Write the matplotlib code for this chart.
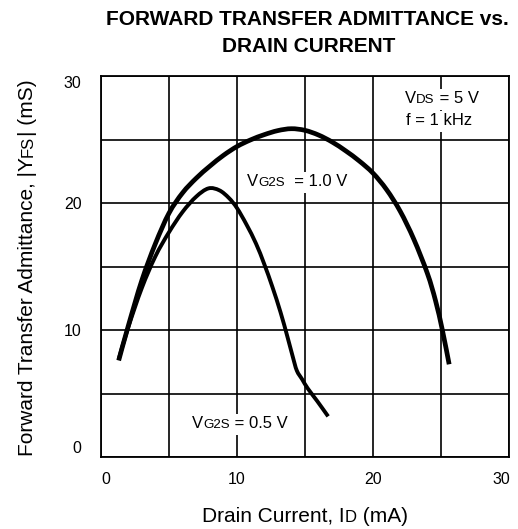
import matplotlib
matplotlib.use("Agg")
import matplotlib.pyplot as plt
import numpy as np
from matplotlib.transforms import IdentityTransform, ScaledTranslation
from matplotlib.patches import Rectangle, PathPatch
from matplotlib.path import Path

plt.rcParams['font.family'] = ['Liberation Sans', 'DejaVu Sans']

# ---- data ----
id_10 = [1.3, 2.0, 3.0, 4.0, 5.0, 6.0, 7.0, 8.0, 9.0, 10.0, 11.0, 12.0, 13.0, 14.0,
         15.0, 16.0, 17.0, 18.0, 19.0, 20.0, 21.0, 22.0, 23.0, 24.0, 24.6, 25.1, 25.6]
yfs_10 = [7.6, 10.3, 13.9, 16.8, 19.2, 20.8, 21.95, 22.9, 23.75, 24.45, 24.97, 25.38, 25.7, 25.85,
          25.72, 25.35, 24.8, 24.1, 23.3, 22.35, 21.05, 19.35, 17.15, 14.45, 12.3, 10.0, 7.3]
id_05 = [1.3, 2.0, 3.0, 4.0, 5.0, 6.0, 7.0, 7.9, 8.7, 9.4, 10.0, 10.7, 11.4, 12.0,
         12.6, 13.2, 13.7, 14.1, 14.4, 14.8, 15.2, 15.9, 16.7]
yfs_05 = [7.7, 10.2, 13.3, 15.8, 17.7, 19.3, 20.5, 21.15, 21.0, 20.4, 19.6, 18.3, 16.8, 15.2,
          13.4, 11.4, 9.5, 7.9, 6.8, 6.1, 5.4, 4.4, 3.2]
x_ticks = [0, 10, 20, 30]
y_ticks = [0, 10, 20, 30]
grid_minor = [5, 15, 25]

W, H = 518, 529
fig = plt.figure(figsize=(W / 100, H / 100), dpi=100)
ax = fig.add_axes([101 / W, (H - 457) / H, 408 / W, 381 / H])
ax.set_xlim(0, 30)
ax.set_ylim(0, 30)
ax.set_xticks(x_ticks)
ax.set_yticks(y_ticks)
ax.set_xticks(grid_minor, minor=True)
ax.set_yticks(grid_minor, minor=True)
ax.tick_params(which='both', length=0, labelsize=11.5, colors='black')
ax.tick_params(axis='x', pad=11)
ax.tick_params(axis='y', pad=14)
ax.grid(which='both', color='black', linewidth=1.2, zorder=0.5)
ax.set_axisbelow(True)
for s in ax.spines.values():
    s.set_linewidth(1.3)
    s.set_color('black')


def smooth_path(xs, ys):
    """Catmull-Rom curve through the given points as cubic Bezier segments."""
    P = np.column_stack([xs, ys]).astype(float)
    n = len(P)
    verts = [P[0]]
    codes = [Path.MOVETO]
    for i in range(n - 1):
        p0 = P[i - 1] if i > 0 else P[i]
        p1 = P[i]
        p2 = P[i + 1]
        p3 = P[i + 2] if i + 2 < n else P[i + 1]
        c1 = p1 + (p2 - p0) / 6.0
        c2 = p2 - (p3 - p1) / 6.0
        verts += [c1, c2, p2]
        codes += [Path.CURVE4] * 3
    return Path(np.array(verts), codes)


for xs, ys, lw in [(id_10, yfs_10, 3.4), (id_05, yfs_05, 2.8)]:
    pp = PathPatch(smooth_path(xs, ys), facecolor='none', edgecolor='black', lw=lw,
                   joinstyle='round', capstyle='butt', zorder=3)
    ax.add_patch(pp)
ax.set_xlim(0, 30)
ax.set_ylim(0, 30)

fig.canvas.draw()
renderer = fig.canvas.get_renderer()
ident = IdentityTransform()

# nudge the end tick labels inward like the reference
px = 1 / 100
xl = ax.get_xticklabels()
yl = ax.get_yticklabels()
xl[0].set_transform(xl[0].get_transform() + ScaledTranslation(5 * px, 0, fig.dpi_scale_trans))
xl[-1].set_transform(xl[-1].get_transform() + ScaledTranslation(-8 * px, 0, fig.dpi_scale_trans))
yl[0].set_transform(yl[0].get_transform() + ScaledTranslation(0, 10 * px, fig.dpi_scale_trans))
yl[-1].set_transform(yl[-1].get_transform() + ScaledTranslation(0, -6 * px, fig.dpi_scale_trans))


def measure(s, fs, weight='normal'):
    t = fig.text(0, 0, s + '|', fontsize=fs, weight=weight, transform=ident)
    w1 = t.get_window_extent(renderer).width
    t.set_text('|')
    w2 = t.get_window_extent(renderer).width
    t.remove()
    return w1 - w2


def rich(x, y_top, pieces, fs, rotation=0, ha='left', box=False, target=None):
    widths = [measure(s, fs * sc) for s, sc in pieces]
    total = sum(widths)
    yb = H - y_top
    off = -total / 2 if ha == 'center' else 0
    tgt = target if target is not None else fig
    for (s, sc), w in zip(pieces, widths):
        if rotation == 0:
            ppx, ppy = x + off, yb
        else:
            ppx, ppy = x, yb + off
        tgt.text(ppx, ppy, s, fontsize=fs * sc, rotation=rotation, rotation_mode='anchor',
                 ha='left', va='baseline', transform=ident, color='black', zorder=5)
        off += w
    if box:
        pad = 3
        r = Rectangle((x - pad, yb - 0.3 * fs - pad), total + 2 * pad, fs * 1.25 + 2 * pad,
                      transform=ident, facecolor='white', edgecolor='none', zorder=2.8)
        ax.add_artist(r)


SM = 0.8
fig.text(307 / W, (H - 25) / H, 'FORWARD TRANSFER ADMITTANCE vs.', ha='center', va='baseline',
         fontsize=15, weight='bold')
fig.text(309 / W, (H - 52) / H, 'DRAIN CURRENT', ha='center', va='baseline',
         fontsize=15, weight='bold')

rich(305, 522, [('Drain Current, I', 1), ('D', SM), (' (mA)', 1)], 15, ha='center')
rich(33, 268, [('Forward Transfer Admittance, |Y', 1), ('FS', SM), ('| (mS)', 1)], 15,
     rotation=90, ha='center')

rich(405, 103, [('V', 1), ('DS', SM), (' = 5 V', 1)], 12, box=True, target=ax)
rich(406, 125, [('f = 1 kHz', 1)], 12, box=True, target=ax)
rich(247, 186, [('V', 1), ('G2S', SM), ('  = 1.0 V', 1)], 12, box=True, target=ax)
rich(192, 428, [('V', 1), ('G2S', SM), (' = 0.5 V', 1)], 12, box=True, target=ax)

fig.savefig('out.png', dpi=100)
